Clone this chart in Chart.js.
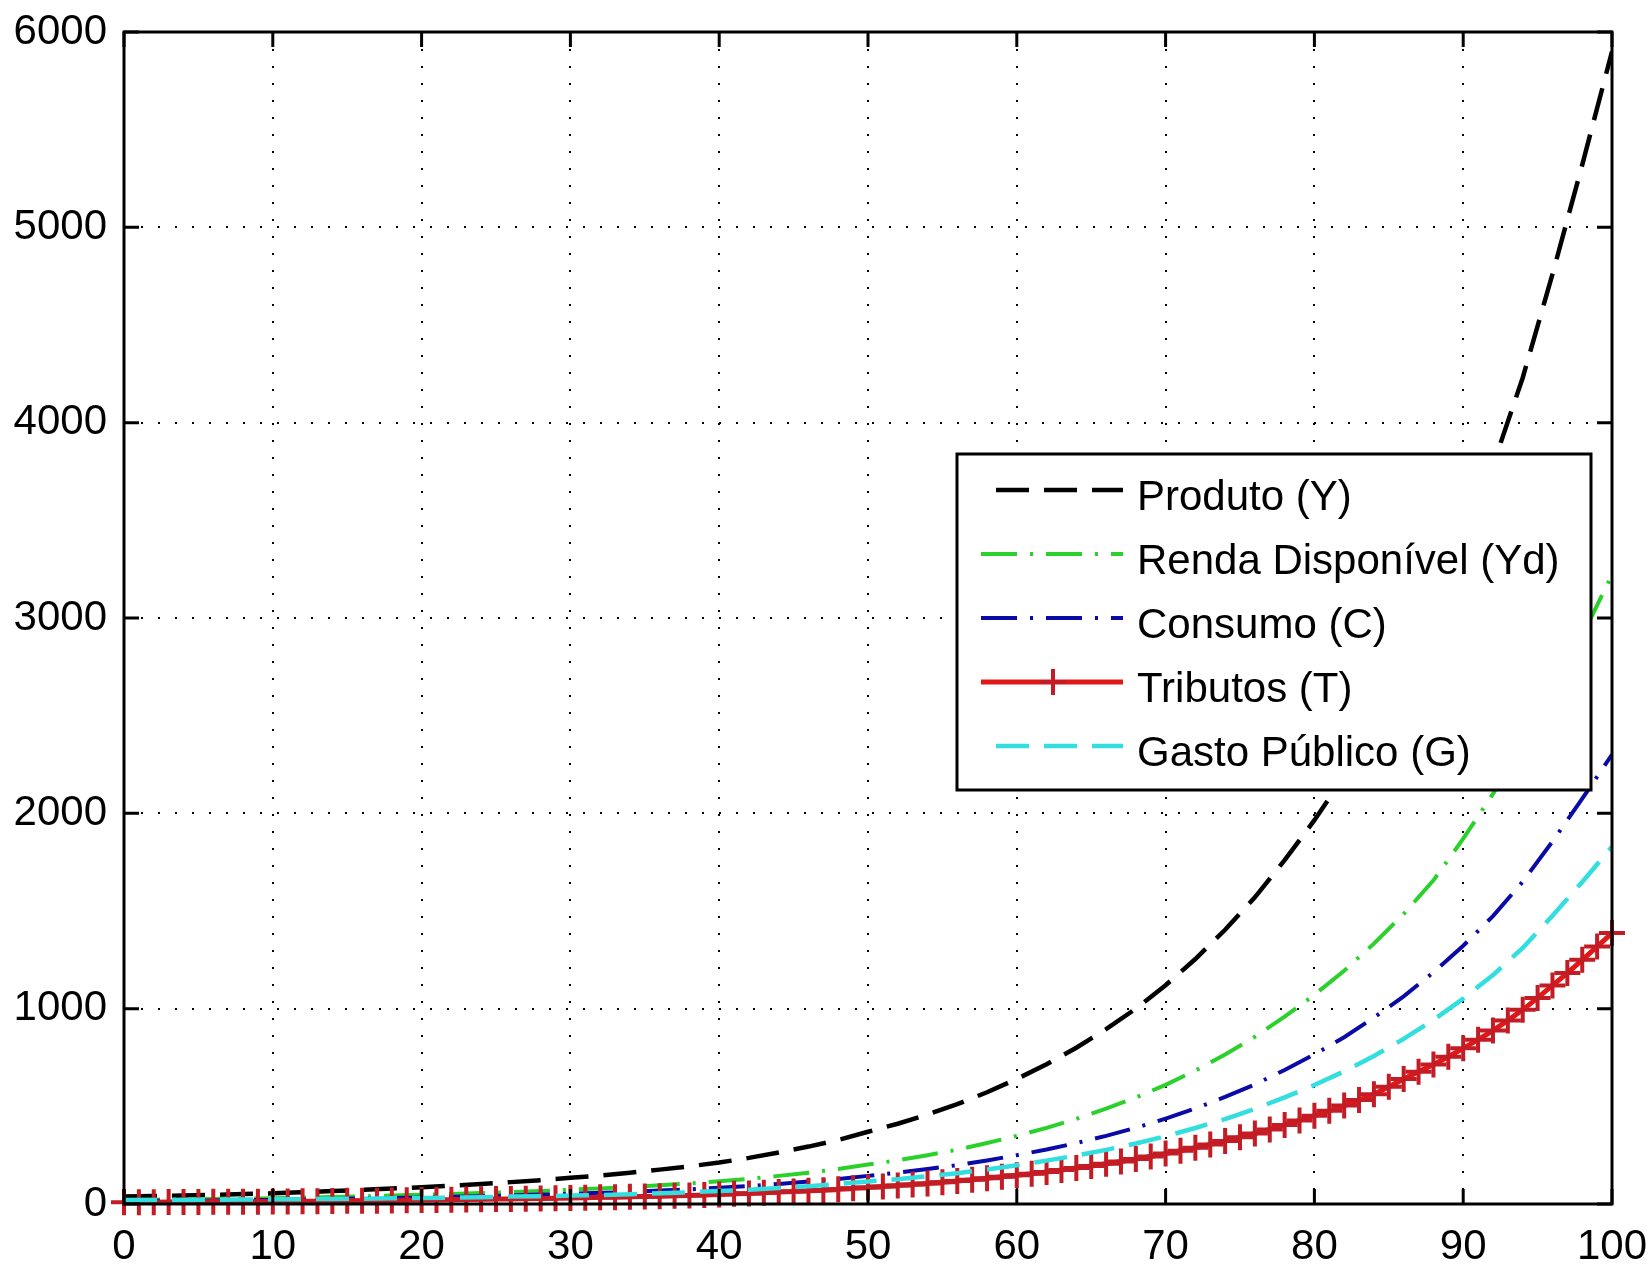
<!DOCTYPE html>
<html>
<head>
<meta charset="utf-8">
<script src="https://cdn.jsdelivr.net/npm/chart.js@4.4.1/dist/chart.umd.min.js"></script>
<style>
  html, body { margin: 0; padding: 0; background: #fff; }
  canvas { display: block; }
</style>
</head>
<body>
<canvas id="chart" width="1652" height="1269"></canvas>
<script>
// periods (t) — every integer for the marked series, every second one for the dashed lines
const periods = [0,1,2,3,4,5,6,7,8,9,10,11,12,13,14,15,16,17,18,19,20,21,22,23,24,25,26,27,28,29,30,31,32,33,34,35,36,37,38,39,40,41,42,43,44,45,46,47,48,49,50,51,52,53,54,55,56,57,58,59,60,61,62,63,64,65,66,67,68,69,70,71,72,73,74,75,76,77,78,79,80,81,82,83,84,85,86,87,88,89,90,91,92,93,94,95,96,97,98,99,100];
const periodsEven = [0,2,4,6,8,10,12,14,16,18,20,22,24,26,28,30,32,34,36,38,40,42,44,46,48,50,52,54,56,58,60,62,64,66,68,70,72,74,76,78,80,82,84,86,88,90,92,94,96,98,100];

const produto = [38,41,44,47,51,55,60,66,72,79,86,94,103,112,122,134,146,160,176,193,212,236,264,294,328,370,411,458,511,572,640,715,800,895,1000,1120,1254,1404,1570,1760,1965,2190,2445,2725,3040,3390,3780,4230,4760,5320,5900];
const rendaDisponivel = [21,22,24,26,28,30,33,36,39,43,47,51,56,61,66,73,80,87,96,105,116,129,144,160,179,202,224,250,278,312,349,390,436,488,545,610,683,765,856,959,1071,1194,1333,1485,1657,1870,2100,2345,2620,2910,3220];
const consumo = [15,16,17,18,20,21,23,26,28,31,34,37,40,44,48,52,57,62,69,75,83,92,103,115,128,144,160,179,199,223,250,279,312,349,390,437,489,548,612,686,766,854,954,1063,1186,1322,1474,1650,1856,2075,2301];
const gastoPublico = [20,20,21,22,23,24,25,26,27,29,31,33,35,38,40,43,45,50,55,60,66,73,82,91,102,115,127,142,158,177,198,222,248,277,310,347,389,435,487,546,609,679,758,845,942,1051,1172,1311,1476,1649,1829];
const tributos = [9,9,9,10,10,10,11,11,12,12,13,13,14,14,15,16,17,17,18,19,20,21,22,23,24,25,26,27,28,29,31,32,34,35,37,39,40,42,44,46,49,52,54,58,61,64,68,71,75,80,85,90,95,100,105,111,118,124,132,139,147,155,164,174,184,195,206,218,230,243,258,273,288,305,323,342,361,382,405,428,452,477,504,532,562,600,640,677,714,754,797,841,888,940,994,1055,1119,1182,1250,1318,1387];

const seriesLabels = ['Produto (Y)', 'Renda Disponível (Yd)', 'Consumo (C)', 'Tributos (T)', 'Gasto Público (G)'];
const xTicks = [0,10,20,30,40,50,60,70,80,90,100];
const yTicks = [0,1000,2000,3000,4000,5000,6000];

const FONT_FAMILY = '"Liberation Sans", Arial, sans-serif';

function points(xs, ys) {
  return xs.map((x, i) => ({ x: x, y: ys[i] }));
}

// box round the plot with MATLAB-style inward ticks on all four sides
const axesBox = {
  id: 'axesBox',
  afterDatasetsDraw(chart) {
    const { ctx, chartArea: a, scales: { x, y } } = chart;
    ctx.save();
    ctx.strokeStyle = '#000';
    ctx.lineWidth = 3;
    ctx.strokeRect(a.left, a.top, a.right - a.left, a.bottom - a.top);
    ctx.beginPath();
    x.ticks.forEach(t => {
      const px = x.getPixelForValue(t.value);
      ctx.moveTo(px, a.bottom); ctx.lineTo(px, a.bottom - 15);
      ctx.moveTo(px, a.top); ctx.lineTo(px, a.top + 15);
    });
    y.ticks.forEach(t => {
      const py = y.getPixelForValue(t.value);
      ctx.moveTo(a.left, py); ctx.lineTo(a.left + 15, py);
      ctx.moveTo(a.right, py); ctx.lineTo(a.right - 15, py);
    });
    ctx.stroke();
    ctx.restore();
  }
};

// legend box inside the plot, as MATLAB draws it
const boxLegend = {
  id: 'boxLegend',
  afterDraw(chart) {
    const ctx = chart.ctx;
    const left = 957, top = 454, w = 634, h = 336;
    ctx.save();
    ctx.fillStyle = '#fff';
    ctx.fillRect(left, top, w, h);
    ctx.strokeStyle = '#000';
    ctx.lineWidth = 3;
    ctx.strokeRect(left, top, w, h);

    chart.data.datasets.forEach((ds, i) => {
      const yy = 490 + i * 64;
      ctx.save();
      ctx.strokeStyle = ds.borderColor;
      ctx.lineWidth = ds.borderWidth;
      ctx.setLineDash(ds.borderDash || []);
      ctx.lineDashOffset = ds.borderDash && ds.borderDash.length === 2 ? 33 : 0;
      ctx.beginPath();
      ctx.moveTo(981, yy);
      ctx.lineTo(1123, yy);
      ctx.stroke();
      if (ds.pointStyle === 'cross') {
        ctx.setLineDash([]);
        ctx.strokeStyle = ds.pointBorderColor;
        ctx.lineWidth = ds.pointBorderWidth;
        ctx.beginPath();
        ctx.moveTo(1053, yy - ds.pointRadius); ctx.lineTo(1053, yy + ds.pointRadius);
        ctx.moveTo(1053 - ds.pointRadius, yy); ctx.lineTo(1053 + ds.pointRadius, yy);
        ctx.stroke();
      }
      ctx.restore();

      ctx.fillStyle = '#000';
      ctx.font = '42px ' + FONT_FAMILY;
      ctx.textBaseline = 'alphabetic';
      ctx.textAlign = 'left';
      ctx.fillText(ds.label, 1137, 510 + i * 64);
    });
    ctx.restore();
  }
};

new Chart(document.getElementById('chart').getContext('2d'), {
  type: 'line',
  data: {
    datasets: [
      {
        label: seriesLabels[0],
        data: points(periodsEven, produto),
        borderColor: '#000000',
        borderWidth: 4.5,
        borderDash: [33, 15],
        pointRadius: 0,
        order: 5
      },
      {
        label: seriesLabels[1],
        data: points(periodsEven, rendaDisponivel),
        borderColor: '#2bd12b',
        borderWidth: 4,
        borderDash: [36, 13, 3, 13],
        pointRadius: 0,
        order: 4
      },
      {
        label: seriesLabels[2],
        data: points(periodsEven, consumo),
        borderColor: '#0a0aa8',
        borderWidth: 4,
        borderDash: [36, 13, 3, 13],
        pointRadius: 0,
        order: 3
      },
      {
        label: seriesLabels[3],
        data: points(periods, tributos),
        borderColor: '#e01818',
        borderWidth: 5,
        pointStyle: 'cross',
        pointRadius: 13,
        pointBorderWidth: 4,
        pointBorderColor: '#c41c24',
        pointBackgroundColor: '#c41c24',
        clip: false,
        order: 2
      },
      {
        label: seriesLabels[4],
        data: points(periodsEven, gastoPublico),
        borderColor: '#33dede',
        borderWidth: 4.5,
        borderDash: [33, 15],
        pointRadius: 0,
        order: 1
      }
    ]
  },
  options: {
    responsive: false,
    animation: false,
    devicePixelRatio: 1,
    layout: { padding: { left: 0, right: 40, top: 32, bottom: 0 } },
    elements: { line: { tension: 0 } },
    scales: {
      x: {
        type: 'linear',
        min: 0,
        max: 100,
        afterBuildTicks: s => { s.ticks = xTicks.map(v => ({ value: v })); },
        afterFit: s => { s.height = 65; s.paddingLeft = 0; s.paddingRight = 0; },
        grid: { color: '#000', lineWidth: 2, drawTicks: false },
        border: { display: false, dash: [2, 15] },
        ticks: {
          padding: 18,
          maxRotation: 0,
          autoSkip: false,
          color: '#000',
          font: { family: FONT_FAMILY, size: 42 }
        }
      },
      y: {
        type: 'linear',
        min: 0,
        max: 6000,
        afterBuildTicks: s => { s.ticks = yTicks.map(v => ({ value: v })); },
        afterFit: s => { s.width = 124; s.paddingTop = 0; s.paddingBottom = 0; },
        grid: { color: '#000', lineWidth: 2, drawTicks: false },
        border: { display: false, dash: [2, 15] },
        ticks: {
          padding: 17,
          color: '#000',
          font: { family: FONT_FAMILY, size: 42 },
          callback: v => String(v)
        }
      }
    },
    plugins: {
      legend: { display: false },
      tooltip: { enabled: false }
    }
  },
  plugins: [axesBox, boxLegend]
});
</script>
</body>
</html>
